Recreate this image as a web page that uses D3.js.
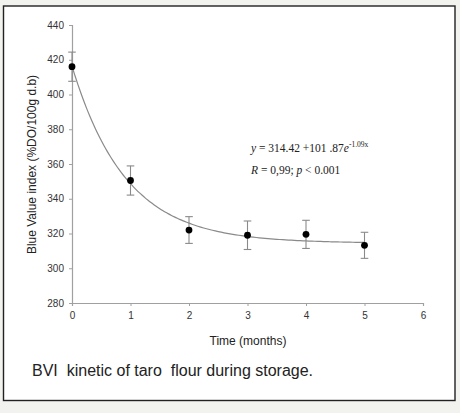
<!DOCTYPE html>
<html><head><meta charset="utf-8">
<script src="https://cdn.jsdelivr.net/npm/d3@7"></script>
<style>
html,body{margin:0;padding:0;background:#f2f2ee;}
svg{display:block;}
</style></head>
<body>
<svg id="chart" width="460" height="413"></svg>
<script>
// Data
const months = [0, 1, 2, 3, 4, 5];
const bvi = [416, 350.5, 322, 319, 319.5, 313.2];
const bviErr = [8.4, 8.4, 7.7, 8.2, 8.1, 7.5];
const xTicks = [0, 1, 2, 3, 4, 5, 6];
const yTicks = [280, 300, 320, 340, 360, 380, 400, 420, 440];
// Fit parameters as printed on the chart: y = a + b e^{-k x}
const fitA = 314.42, fitB = 101.87, fitK = 1.09;

const svg = d3.select("#chart");
// Frame
svg.append("rect").attr("x", 3.5).attr("y", 6).attr("width", 451.5).attr("height", 394.5)
  .attr("fill", "#fff").attr("stroke", "#222").attr("stroke-width", 1.4);

const x = d3.scaleLinear().domain([0, 6]).range([72, 423]);
const y = d3.scaleLinear().domain([280, 440]).range([303, 25]);

const axisColor = "#a0a0a0";
const gx = svg.append("g").attr("transform", `translate(0,${y(280)})`)
  .call(d3.axisBottom(x).tickValues(xTicks).tickSize(3).tickPadding(6).tickFormat(d3.format("d")));
const gy = svg.append("g").attr("transform", `translate(${x(0)},0)`)
  .call(d3.axisLeft(y).tickValues(yTicks).tickSize(3).tickPadding(5).tickFormat(d3.format("d")));
[gx, gy].forEach(g => {
  g.select(".domain").attr("stroke", axisColor).attr("stroke-width", 1.2);
  g.selectAll(".tick line").attr("stroke", axisColor);
  g.selectAll(".tick text").attr("fill", "#333").attr("font-family", "Liberation Sans, Arial, sans-serif").attr("font-size", 10);
});

// Fitted curve
const curvePts = d3.range(0, 5.001, 0.05).map(t => [t, fitA + fitB * Math.exp(-fitK * t)]);
svg.append("path").datum(curvePts)
  .attr("fill", "none").attr("stroke", "#8a8a8a").attr("stroke-width", 1.2)
  .attr("d", d3.line().x(d => x(d[0])).y(d => y(d[1])).curve(d3.curveBasis));

// Error bars
const eb = svg.append("g").attr("stroke", "#8a8a8a").attr("stroke-width", 1.1);
months.forEach((m, i) => {
  const cx = x(m), lo = y(bvi[i] - bviErr[i]), hi = y(bvi[i] + bviErr[i]);
  eb.append("line").attr("x1", cx).attr("x2", cx).attr("y1", lo).attr("y2", hi);
  eb.append("line").attr("x1", cx - 3.8).attr("x2", cx + 3.8).attr("y1", lo).attr("y2", lo);
  eb.append("line").attr("x1", cx - 3.8).attr("x2", cx + 3.8).attr("y1", hi).attr("y2", hi);
});

// Points
svg.append("g").selectAll("circle").data(months).join("circle")
  .attr("cx", d => x(d)).attr("cy", (d, i) => y(bvi[i])).attr("r", 3.4).attr("fill", "#000");

// Axis titles
const sans = "Liberation Sans, Arial, sans-serif";
svg.append("text").attr("x", 248).attr("y", 345).attr("text-anchor", "middle")
  .attr("font-family", sans).attr("font-size", 12).attr("fill", "#222").text("Time (months)");
svg.append("text").attr("transform", "translate(36,164.5) rotate(-90)").attr("text-anchor", "middle")
  .attr("font-family", sans).attr("font-size", 12).attr("fill", "#222").text("Blue Value index (%DO/100g d.b)");

// Equation
const serif = "Liberation Serif, Times New Roman, serif";
const eq = svg.append("text").attr("x", 251).attr("y", 152).attr("font-family", serif).attr("font-size", 11.5).attr("fill", "#222");
eq.append("tspan").attr("font-style", "italic").text("y");
eq.append("tspan").text(" = 314.42 +101 .87");
eq.append("tspan").attr("font-style", "italic").text("e");
eq.append("tspan").attr("font-size", 7.5).attr("dy", -5).text("-1.09x");
const r = svg.append("text").attr("x", 251).attr("y", 174).attr("font-family", serif).attr("font-size", 11.5).attr("fill", "#222");
r.append("tspan").attr("font-style", "italic").text("R");
r.append("tspan").text(" = 0,99; ");
r.append("tspan").attr("font-style", "italic").text("p");
r.append("tspan").text(" < 0.001");

// Caption
svg.append("text").attr("x", 32).attr("y", 376).attr("xml:space", "preserve").style("white-space", "pre")
  .attr("font-family", sans).attr("font-size", 16).attr("fill", "#222")
  .text("BVI  kinetic of taro  flour during storage.");
</script>
</body></html>
